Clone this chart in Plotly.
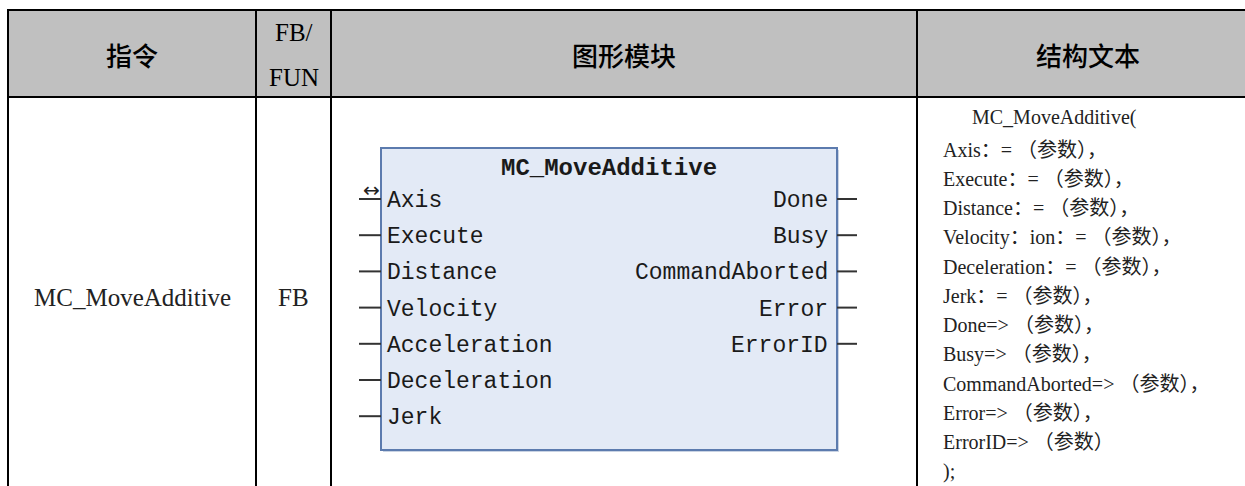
import plotly.graph_objects as go

# ---- data ----
headers = ["指令", "FB/\nFUN", "图形模块", "结构文本"]
instruction = "MC_MoveAdditive"
fb_type = "FB"
block_title = "MC_MoveAdditive"
block_inputs = ["Axis", "Execute", "Distance", "Velocity", "Acceleration", "Deceleration", "Jerk"]
block_outputs = ["Done", "Busy", "CommandAborted", "Error", "ErrorID"]
inout_pins = ["Axis"]
st_lines = [
    "MC_MoveAdditive(",
    "Axis：= （参数），",
    "Execute：= （参数），",
    "Distance：= （参数），",
    "Velocity：ion：= （参数），",
    "Deceleration：= （参数），",
    "Jerk：= （参数），",
    "Done=> （参数），",
    "Busy=> （参数），",
    "CommandAborted=> （参数），",
    "Error=> （参数），",
    "ErrorID=> （参数）",
    ");",
]

# ---- layout geometry (pixels) ----
W, H = 1245, 486
top, head_bot = 10, 97
col_x = [8, 256, 331, 917, W + 5]
box_l, box_r, box_t, box_b = 381, 837, 148, 450
pin_y0, pin_dy = 199, 36.2
pin_len = 22

serif = "Liberation Serif, Noto Sans CJK SC, serif"
cjk = "Noto Sans CJK SC, Liberation Serif, sans-serif"
mono = "Liberation Mono, Courier New, monospace"

fig = go.Figure()
shapes = []
ann = []

# header background
shapes.append(dict(type="rect", x0=col_x[0], x1=col_x[-1], y0=top, y1=head_bot,
                   fillcolor="#C0C0C0", line=dict(width=0), layer="below"))
# horizontal borders
for yy in (top, head_bot):
    shapes.append(dict(type="line", x0=col_x[0] - 1, x1=col_x[-1], y0=yy, y1=yy,
                       line=dict(color="black", width=2)))
# vertical borders
for xx in col_x[:-1]:
    shapes.append(dict(type="line", x0=xx, x1=xx, y0=top, y1=H + 5,
                       line=dict(color="black", width=2)))

# header texts
for i, h in enumerate(headers):
    cx = (col_x[i] + col_x[i + 1]) / 2 if i < 3 else 1088
    parts = h.split("\n")
    if len(parts) == 1:
        ann.append(dict(x=cx, y=(top + head_bot) / 2 + 1, text=parts[0], showarrow=False,
                        font=dict(family=cjk, size=26, color="#000", weight=500),
                        xanchor="center", yanchor="middle"))
    else:
        for j, p in enumerate(parts):
            ann.append(dict(x=cx, y=32 + j * 45, text=p, showarrow=False,
                            font=dict(family=serif, size=25, color="#000"),
                            xanchor="center", yanchor="middle"))

# body row texts
body_mid = 297
ann.append(dict(x=(col_x[0] + col_x[1]) / 2, y=body_mid, text=instruction, showarrow=False,
                font=dict(family=serif, size=25, color="#222"), xanchor="center", yanchor="middle"))
ann.append(dict(x=(col_x[1] + col_x[2]) / 2, y=body_mid, text=fb_type, showarrow=False,
                font=dict(family=serif, size=25, color="#222"), xanchor="center", yanchor="middle"))

# function block
shapes.append(dict(type="rect", x0=box_l + 2, x1=box_r + 2, y0=box_t + 2, y1=box_b + 2,
                   fillcolor="#C9D3E3", line=dict(width=0)))
shapes.append(dict(type="rect", x0=box_l, x1=box_r, y0=box_t, y1=box_b,
                   fillcolor="#E3EAF6", line=dict(color="#5C7BAE", width=2)))
ann.append(dict(x=(box_l + box_r) / 2, y=168, text="<b>" + block_title + "</b>", showarrow=False,
                font=dict(family=mono, size=24, color="#1a1a1a"), xanchor="center", yanchor="middle"))

for i, name in enumerate(block_inputs):
    yy = pin_y0 + i * pin_dy
    shapes.append(dict(type="line", x0=box_l - pin_len, x1=box_l, y0=yy, y1=yy,
                       line=dict(color="#333", width=2)))
    ann.append(dict(x=box_l + 4, y=yy + 2, text=name, showarrow=False,
                    font=dict(family=mono, size=23, color="#1a1a1a"), xanchor="left", yanchor="middle"))
    if name in inout_pins:
        ann.append(dict(x=box_l - 10, y=yy - 9, text="↔", showarrow=False,
                        font=dict(family="DejaVu Sans", size=20, color="#222"),
                        xanchor="center", yanchor="middle"))

for i, name in enumerate(block_outputs):
    yy = pin_y0 + i * pin_dy
    shapes.append(dict(type="line", x0=box_r, x1=box_r + pin_len - 2, y0=yy, y1=yy,
                       line=dict(color="#333", width=2)))
    ann.append(dict(x=box_r - 7, y=yy + 2, text=name, showarrow=False,
                    font=dict(family=mono, size=23, color="#1a1a1a"), xanchor="right", yanchor="middle"))

# structured text
for i, line in enumerate(st_lines):
    if i == 0:
        xx, yy = 970, 117
    else:
        xx, yy = 941, 150 + (i - 1) * 29.2
    ann.append(dict(x=xx, y=yy, text=line, showarrow=False,
                    font=dict(family=serif, size=20, color="#222"), xanchor="left", yanchor="middle"))

fig.update_layout(
    width=W, height=H,
    margin=dict(l=0, r=0, t=0, b=0),
    paper_bgcolor="white", plot_bgcolor="white",
    xaxis=dict(range=[0, W], visible=False, fixedrange=True),
    yaxis=dict(range=[H, 0], visible=False, fixedrange=True),
    shapes=shapes, annotations=ann, showlegend=False,
)
fig.write_html(
    "out.html",
    config={"displayModeBar": False},
    post_script="document.body.style.margin='0';document.body.style.overflow='hidden';",
)
